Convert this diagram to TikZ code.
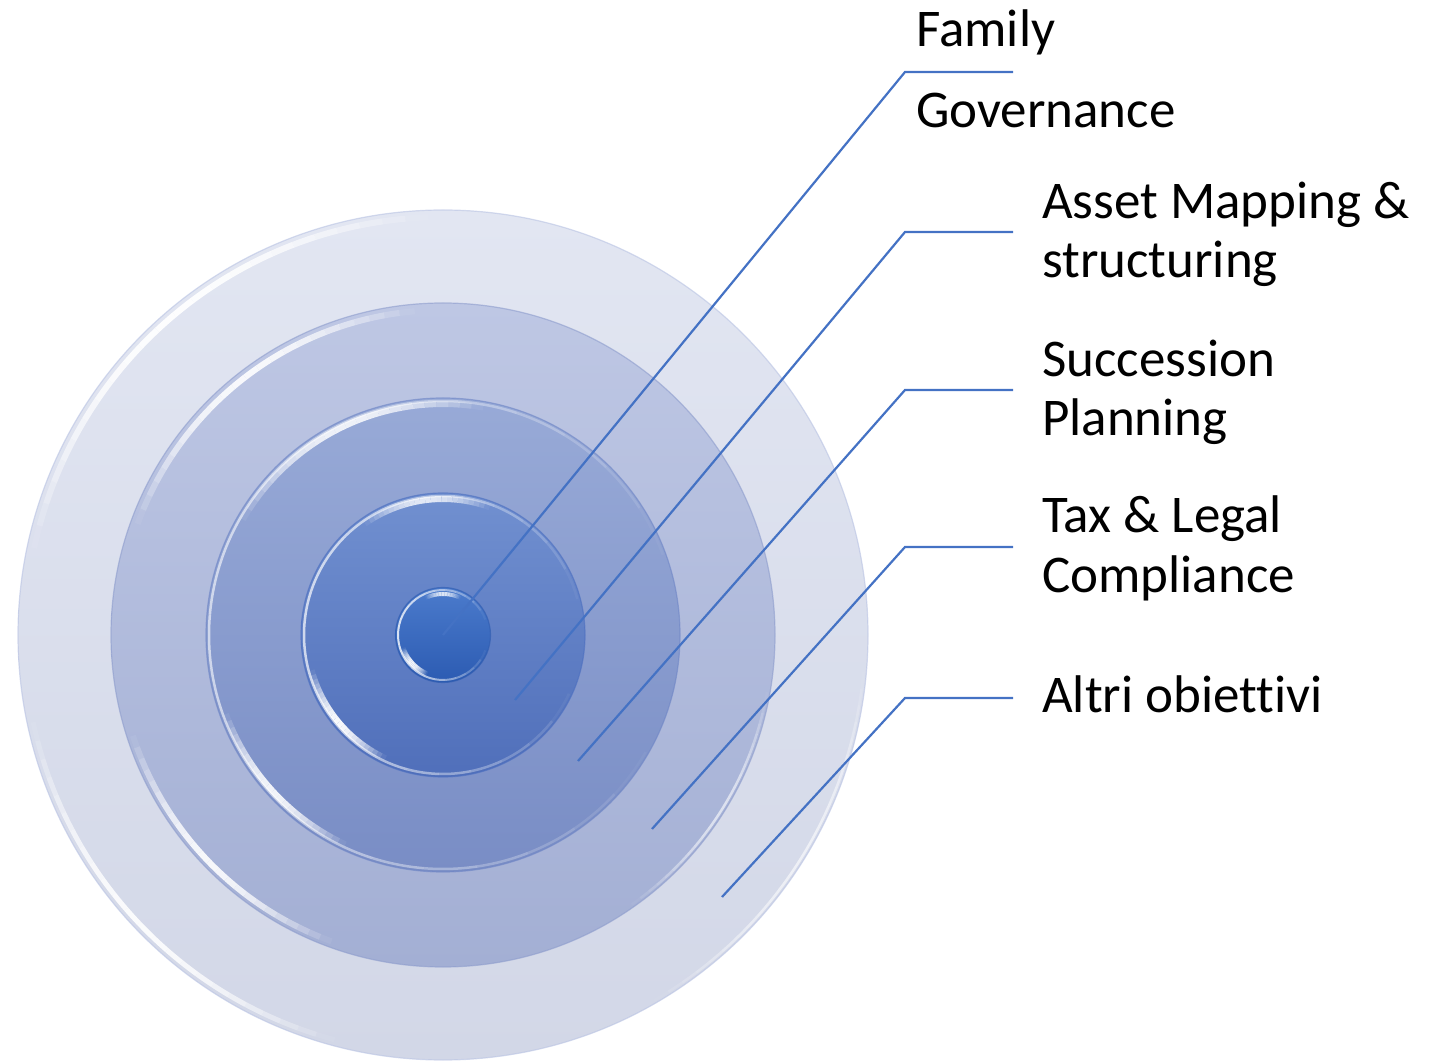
\documentclass[tikz,border=0pt]{standalone}
\usepackage{fontspec}
\setmainfont{Carlito}[Ligatures=CommonOff]
\usetikzlibrary{calc}
\definecolor{lineblue}{HTML}{4472C4}
\definecolor{r1top}{HTML}{E2E6F2}
\definecolor{r1bot}{HTML}{D2D7E7}
\definecolor{r1rim}{HTML}{B9C3E3}
\definecolor{r2top}{HTML}{BEC7E4}
\definecolor{r2bot}{HTML}{A3AFD4}
\definecolor{r2rim}{HTML}{8E9DCD}
\definecolor{r3top}{HTML}{98AAD7}
\definecolor{r3bot}{HTML}{798DC5}
\definecolor{r3rim}{HTML}{6F86C6}
\definecolor{r4top}{HTML}{7190D0}
\definecolor{r4bot}{HTML}{506FBA}
\definecolor{r4rim}{HTML}{4C6FC0}
\definecolor{r5top}{HTML}{4B7BCC}
\definecolor{r5bot}{HTML}{2C5BB2}
\definecolor{r5rim}{HTML}{2F5CB0}
\newcommand\myring[4]{%
  \shade[top color=#2, bottom color=#3] (C) circle (#1);
  \draw[#4, line width=1.2pt, opacity=.6] (C) circle (#1);
}
\newcommand\myglint[5]{%
  \foreach \k in {0,...,23}{%
    \pgfmathsetmacro\aa{#2+(#3-#2)*\k/24}%
    \pgfmathsetmacro\dd{(#3-#2)/24}%
    \pgfmathsetmacro\op{#5*sin(180*(\k+0.5)/24)}%
    \draw[white, line width=#4, opacity=\op, line cap=butt]
      ($(C)+(\aa:#1)$) arc[start angle=\aa, delta angle=\dd, radius=#1];
  }%
}
\begin{document}
\begin{tikzpicture}[x=1pt,y=1pt,
  lbl/.style={anchor=base west, inner sep=0pt, font=\fontsize{53}{59}\selectfont},
  conn/.style={draw=lineblue, line width=2.2pt}]
\useasboundingbox (0,0) rectangle (1431,1060);
\coordinate (C) at (443,425);

% rings
\myring{425}{r1top}{r1bot}{r1rim}
\myglint{418}{92}{168}{6pt}{0.95}
\myglint{419}{192}{255}{5pt}{0.9}
\myglint{422}{300}{355}{2.5pt}{0.6}

\myring{332}{r2top}{r2bot}{r2rim}
\myglint{325}{95}{160}{6pt}{0.9}
\myglint{326}{198}{250}{6pt}{0.9}
\myglint{329}{305}{350}{2.5pt}{0.6}

\myring{237}{r3top}{r3bot}{r3rim}
\myglint{231}{80}{150}{6pt}{0.85}
\myglint{231}{200}{245}{6pt}{0.9}
\myglint{234}{330}{20}{2.5pt}{0.6}

\myring{142}{r4top}{r4bot}{r4rim}
\myglint{136}{70}{125}{6pt}{0.8}
\myglint{136}{195}{245}{6pt}{0.95}
\myglint{139}{335}{15}{2.5pt}{0.7}

\myring{47.5}{r5top}{r5bot}{r5rim}
\myglint{41}{65}{115}{4pt}{0.8}
\myglint{42}{198}{248}{5pt}{0.95}
\myglint{45}{340}{20}{2pt}{0.8}

% labels
\node[lbl] (fam)  at (916,1013) {Family};
\node[lbl] (gov)  at (916,932)  {Governance};
\node[lbl] (as1)  at (1042,841) {Asset Mapping \&};
\node[lbl] (as2)  at (1042,782) {structuring};
\node[lbl] (su1)  at (1042,683) {Succession};
\node[lbl] (su2)  at (1042,624) {Planning};
\node[lbl] (tx1)  at (1042,527) {Tax \& Legal};
\node[lbl] (tx2)  at (1042,467) {Compliance};
\node[lbl] (alt)  at (1042,347) {Altri obiettivi};

% connector points
\coordinate (e1) at (443,425);  \coordinate (k1) at (905,988); \coordinate (t1) at (1013,988);
\coordinate (e2) at (515,360);  \coordinate (k2) at (905,828); \coordinate (t2) at (1013,828);
\coordinate (e3) at (578,299);  \coordinate (k3) at (905,670); \coordinate (t3) at (1013,670);
\coordinate (e4) at (652,231);  \coordinate (k4) at (905,513); \coordinate (t4) at (1013,513);
\coordinate (e5) at (722,163);  \coordinate (k5) at (905,362); \coordinate (t5) at (1013,362);

\draw[conn] (e1) -- (k1) -- (t1);
\draw[conn] (e2) -- (k2) -- (t2);
\draw[conn] (e3) -- (k3) -- (t3);
\draw[conn] (e4) -- (k4) -- (t4);
\draw[conn] (e5) -- (k5) -- (t5);
\end{tikzpicture}
\end{document}
